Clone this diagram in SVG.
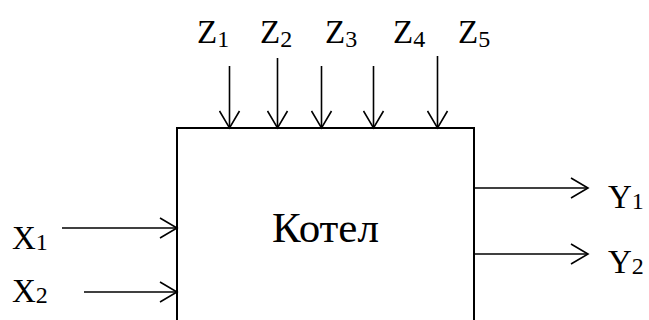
<svg xmlns="http://www.w3.org/2000/svg" width="649" height="320" viewBox="0 0 649 320">
  <style>
    .box { fill: #fff; stroke: #000; stroke-width: 2; }
    .ln { stroke: #000; stroke-width: 1.6; fill: none; }
  </style>
  <defs>
    <marker id="arr" viewBox="0 0 20 22" refX="18" refY="11" markerWidth="20" markerHeight="22" markerUnits="userSpaceOnUse" orient="auto">
      <path d="M1,1 L18,11 L1,21" fill="none" stroke="#000" stroke-width="1.6"/>
    </marker>
  </defs>

  <!-- Boiler block -->
  <g id="boiler">
    <rect class="box" x="177" y="128" width="297" height="200"/>
    <text x="325.5" y="242" text-anchor="middle" font-family="'Liberation Serif'" font-size="43">Котел</text>
  </g>

  <!-- Disturbance labels -->
  <g id="z-inputs">
    <text x="197" y="43" font-family="'Liberation Serif'" font-size="33">Z<tspan font-size="24" dy="4">1</tspan></text>
    <text x="260" y="43" font-family="'Liberation Serif'" font-size="33">Z<tspan font-size="24" dy="4">2</tspan></text>
    <text x="325" y="43" font-family="'Liberation Serif'" font-size="33">Z<tspan font-size="24" dy="4">3</tspan></text>
    <text x="393" y="43" font-family="'Liberation Serif'" font-size="33">Z<tspan font-size="24" dy="4">4</tspan></text>
    <text x="458" y="43" font-family="'Liberation Serif'" font-size="33">Z<tspan font-size="24" dy="4">5</tspan></text>
  </g>

  <!-- Input labels -->
  <g id="x-inputs">
    <text x="12" y="249" font-family="'Liberation Serif'" font-size="33">X<tspan font-size="24" dy="1">1</tspan></text>
    <text x="12" y="302" font-family="'Liberation Serif'" font-size="33">X<tspan font-size="24" dy="1">2</tspan></text>
  </g>

  <!-- Output labels -->
  <g id="y-outputs">
    <text x="608" y="208" font-family="'Liberation Serif'" font-size="33">Y<tspan font-size="24" dy="1">1</tspan></text>
    <text x="608" y="273" font-family="'Liberation Serif'" font-size="33">Y<tspan font-size="24" dy="1">2</tspan></text>
  </g>

  <!-- Connectors -->
  <g id="connectors">
    <line class="ln" x1="229.5" y1="66" x2="229.5" y2="128" marker-end="url(#arr)"/>
    <line class="ln" x1="277.5" y1="58" x2="277.5" y2="128" marker-end="url(#arr)"/>
    <line class="ln" x1="321.5" y1="66" x2="321.5" y2="128" marker-end="url(#arr)"/>
    <line class="ln" x1="373.5" y1="66" x2="373.5" y2="128" marker-end="url(#arr)"/>
    <line class="ln" x1="437.5" y1="56" x2="437.5" y2="128" marker-end="url(#arr)"/>
    <line class="ln" x1="62" y1="228" x2="177" y2="228" marker-end="url(#arr)"/>
    <line class="ln" x1="84" y1="292" x2="177" y2="292" marker-end="url(#arr)"/>
    <line class="ln" x1="474" y1="188" x2="588" y2="188" marker-end="url(#arr)"/>
    <line class="ln" x1="474" y1="254" x2="588" y2="254" marker-end="url(#arr)"/>
  </g>
</svg>
